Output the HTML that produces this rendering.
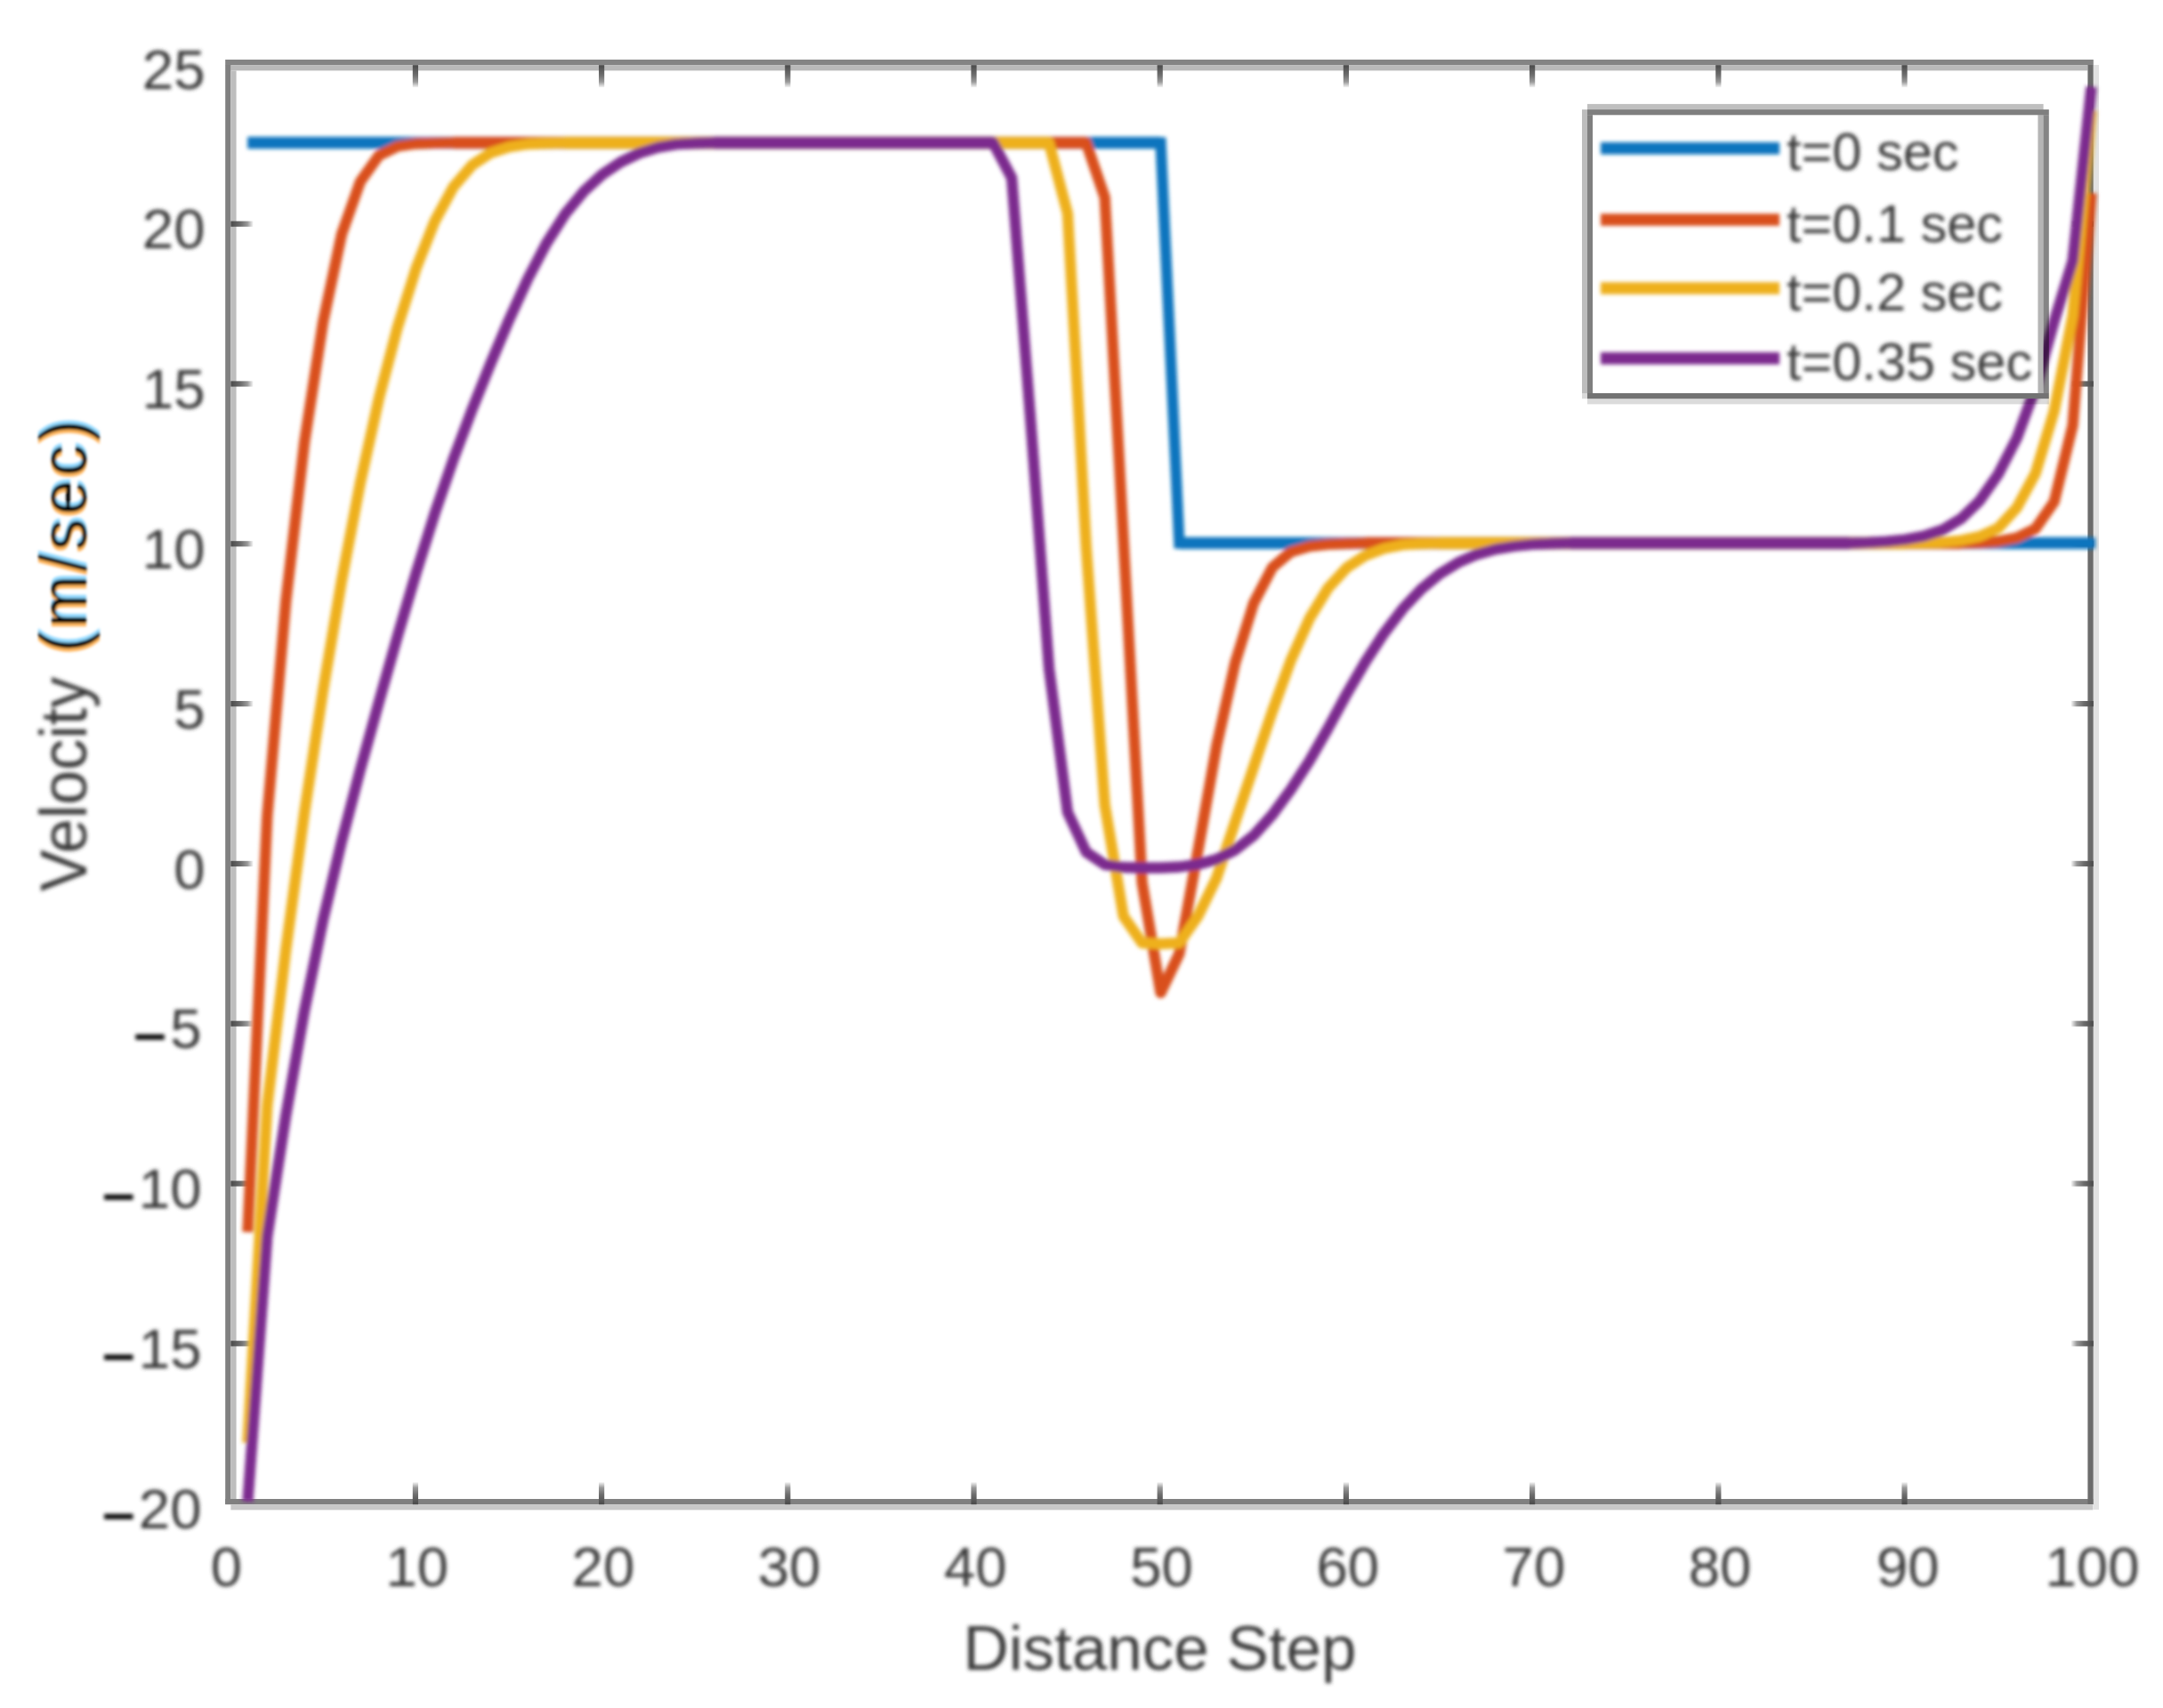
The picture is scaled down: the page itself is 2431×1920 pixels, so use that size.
<!DOCTYPE html>
<html lang="en"><head><meta charset="utf-8"><title>Velocity vs Distance Step</title>
<style>html,body{margin:0;padding:0;background:#fff}body{width:2431px;height:1920px;overflow:hidden}svg{display:block}</style></head>
<body>
<svg width="2431" height="1920" viewBox="0 0 2431 1920">
<defs>
<filter id="b" x="-5%" y="-5%" width="110%" height="110%"><feGaussianBlur stdDeviation="2.2"/></filter>
<filter id="bt" x="-5%" y="-20%" width="110%" height="140%"><feGaussianBlur stdDeviation="2.0"/></filter>
<filter id="fr" x="-30%" y="-5%" width="160%" height="110%"><feOffset in="SourceAlpha" dy="-4" result="up"/><feFlood flood-color="#8fd8ff"/><feComposite in2="up" operator="in" result="cup"/><feOffset in="SourceAlpha" dy="4" result="dn"/><feFlood flood-color="#ffb45a"/><feComposite in2="dn" operator="in" result="cdn"/><feMerge result="m"><feMergeNode in="cup"/><feMergeNode in="cdn"/><feMergeNode in="SourceGraphic"/></feMerge><feGaussianBlur in="m" stdDeviation="1.4"/></filter>
<linearGradient id="gd" x1="0" y1="0" x2="0" y2="1"><stop offset="0" stop-color="#4a4a4a"/><stop offset="0.45" stop-color="#6e6e6e"/><stop offset="0.75" stop-color="#999"/><stop offset="1" stop-color="#f4f4f4"/></linearGradient>
<linearGradient id="gu" x1="0" y1="1" x2="0" y2="0"><stop offset="0" stop-color="#4a4a4a"/><stop offset="0.45" stop-color="#6e6e6e"/><stop offset="0.75" stop-color="#999"/><stop offset="1" stop-color="#f4f4f4"/></linearGradient>
<linearGradient id="gr" x1="0" y1="0" x2="1" y2="0"><stop offset="0" stop-color="#4a4a4a"/><stop offset="0.45" stop-color="#6e6e6e"/><stop offset="0.75" stop-color="#999"/><stop offset="1" stop-color="#f4f4f4"/></linearGradient>
<linearGradient id="gl" x1="1" y1="0" x2="0" y2="0"><stop offset="0" stop-color="#4a4a4a"/><stop offset="0.45" stop-color="#6e6e6e"/><stop offset="0.75" stop-color="#999"/><stop offset="1" stop-color="#f4f4f4"/></linearGradient>
<clipPath id="cp"><rect x="253" y="67" width="2110" height="1624"/></clipPath>
</defs>
<rect width="2431" height="1920" fill="#fff"/>
<g>
<rect x="253.2" y="67" width="2099.6" height="6.2" fill="#848484"/>
<rect x="259.4" y="73.2" width="2087" height="6.2" fill="#b9b9b9"/>
<rect x="253.2" y="73" width="6.2" height="1618" fill="#808080"/>
<rect x="259.4" y="79.4" width="6.2" height="1606" fill="#bebebe"/>
<rect x="253.2" y="1685" width="2099.6" height="6.2" fill="#808080"/>
<rect x="259.4" y="1691.2" width="2093" height="6.2" fill="#c9c9c9"/>
<rect x="2346.4" y="73" width="6.4" height="1618" fill="#6c6c6c"/>
<rect x="2352.8" y="73" width="6.2" height="1624" fill="#e2e2e2"/>
</g>
<g><rect x="463.8" y="1666.2" width="6.2" height="25.0" fill="url(#gu)"/><rect x="463.8" y="73.2" width="6.2" height="25.0" fill="url(#gd)"/><rect x="673.0" y="1666.2" width="6.2" height="25.0" fill="url(#gu)"/><rect x="673.0" y="73.2" width="6.2" height="25.0" fill="url(#gd)"/><rect x="882.2" y="1666.2" width="6.2" height="25.0" fill="url(#gu)"/><rect x="882.2" y="73.2" width="6.2" height="25.0" fill="url(#gd)"/><rect x="1091.4" y="1666.2" width="6.2" height="25.0" fill="url(#gu)"/><rect x="1091.4" y="73.2" width="6.2" height="25.0" fill="url(#gd)"/><rect x="1300.6" y="1666.2" width="6.2" height="25.0" fill="url(#gu)"/><rect x="1300.6" y="73.2" width="6.2" height="25.0" fill="url(#gd)"/><rect x="1509.8" y="1666.2" width="6.2" height="25.0" fill="url(#gu)"/><rect x="1509.8" y="73.2" width="6.2" height="25.0" fill="url(#gd)"/><rect x="1719.0" y="1666.2" width="6.2" height="25.0" fill="url(#gu)"/><rect x="1719.0" y="73.2" width="6.2" height="25.0" fill="url(#gd)"/><rect x="1928.2" y="1666.2" width="6.2" height="25.0" fill="url(#gu)"/><rect x="1928.2" y="73.2" width="6.2" height="25.0" fill="url(#gd)"/><rect x="2137.4" y="1666.2" width="6.2" height="25.0" fill="url(#gu)"/><rect x="2137.4" y="73.2" width="6.2" height="25.0" fill="url(#gd)"/><rect x="259.4" y="1507.2" width="25.0" height="6.2" fill="url(#gr)"/><rect x="2327.8" y="1507.2" width="25.0" height="6.2" fill="url(#gl)"/><rect x="259.4" y="1327.4" width="25.0" height="6.2" fill="url(#gr)"/><rect x="2327.8" y="1327.4" width="25.0" height="6.2" fill="url(#gl)"/><rect x="259.4" y="1147.6" width="25.0" height="6.2" fill="url(#gr)"/><rect x="2327.8" y="1147.6" width="25.0" height="6.2" fill="url(#gl)"/><rect x="259.4" y="967.8" width="25.0" height="6.2" fill="url(#gr)"/><rect x="2327.8" y="967.8" width="25.0" height="6.2" fill="url(#gl)"/><rect x="259.4" y="788.0" width="25.0" height="6.2" fill="url(#gr)"/><rect x="2327.8" y="788.0" width="25.0" height="6.2" fill="url(#gl)"/><rect x="259.4" y="608.2" width="25.0" height="6.2" fill="url(#gr)"/><rect x="2327.8" y="608.2" width="25.0" height="6.2" fill="url(#gl)"/><rect x="259.4" y="428.4" width="25.0" height="6.2" fill="url(#gr)"/><rect x="2327.8" y="428.4" width="25.0" height="6.2" fill="url(#gl)"/><rect x="259.4" y="248.6" width="25.0" height="6.2" fill="url(#gr)"/><rect x="2327.8" y="248.6" width="25.0" height="6.2" fill="url(#gl)"/></g>
<g clip-path="url(#cp)"><g filter="url(#b)" fill="none" stroke-width="12.3" stroke-linejoin="round" stroke-linecap="butt">
<path d="M278.4 160.5 L1304.5 160.5 L1325.4 610.5 L2350.5 610.5 L2355.0 610.5" stroke="#0a74be" stroke-linejoin="miter"/>
<path d="M278.4 160.5 H1304.5 M1325.4 610.5 H2350.5" stroke="#0a74be" stroke-width="13.6"/>
<path d="M278.4 1385.0 L300.3 918.0 L321.3 676.0 L342.2 497.0 L363.1 362.0 L384.0 263.2 L404.9 204.2 L425.9 174.8 L446.8 164.5 L467.7 161.5 L488.6 160.8 L509.5 160.5 L1220.8 160.5 L1241.7 222.0 L1262.7 607.0 L1283.6 992.0 L1304.5 1116.0 L1325.4 1072.0 L1346.3 957.0 L1367.3 838.7 L1388.2 745.1 L1409.1 677.8 L1430.0 637.9 L1450.9 620.3 L1471.9 614.1 L1492.8 611.9 L1513.7 611.0 L1534.6 610.5 L2204.1 610.5 L2225.0 610.0 L2245.9 608.5 L2266.8 604.5 L2287.7 594.3 L2308.7 564.0 L2329.6 478.0 L2350.5 217.0" stroke="#d9501a"/>
<path d="M509.5 160.5 H1220.8 M1534.6 610.5 H2204.1" stroke="#d9501a" stroke-width="13.6"/>
<path d="M278.4 1622.0 L300.3 1243.0 L321.3 1067.4 L342.2 913.2 L363.1 776.1 L384.0 652.6 L404.9 542.8 L425.9 447.8 L446.8 367.8 L467.7 301.5 L488.6 248.7 L509.5 210.3 L530.5 185.7 L551.4 171.9 L572.3 165.1 L593.2 162.0 L614.1 161.0 L635.1 160.5 L1179.0 160.5 L1199.9 240.0 L1220.8 615.0 L1241.7 905.0 L1262.7 1030.0 L1283.6 1060.0 L1304.5 1061.0 L1325.4 1060.0 L1346.3 1030.0 L1367.3 987.0 L1388.2 923.9 L1409.1 861.7 L1430.0 799.6 L1450.9 742.0 L1471.9 695.0 L1492.8 660.8 L1513.7 638.1 L1534.6 624.4 L1555.5 616.5 L1576.5 612.4 L1597.4 611.0 L1618.3 610.5 L2141.3 610.5 L2162.2 610.3 L2183.1 609.5 L2204.1 607.5 L2225.0 603.0 L2245.9 593.5 L2266.8 570.7 L2287.7 532.0 L2308.7 462.0 L2329.6 355.0 L2350.5 124.0" stroke="#eeb01f"/>
<path d="M635.1 160.5 H1179.0 M1618.3 610.5 H2141.3" stroke="#eeb01f" stroke-width="13.6"/>
<path d="M278.4 1688.0 L300.3 1390.0 L321.3 1254.0 L342.2 1135.9 L363.1 1034.2 L384.0 945.7 L404.9 865.3 L425.9 789.1 L446.8 715.1 L467.7 644.0 L488.6 577.3 L509.5 516.4 L530.5 460.7 L551.4 408.6 L572.3 359.2 L593.2 313.5 L614.1 273.6 L635.1 240.7 L656.0 215.3 L676.9 196.1 L697.8 182.1 L718.7 172.1 L739.7 165.6 L760.6 162.1 L781.5 161.0 L802.4 160.5 L1116.2 160.5 L1137.1 200.0 L1158.1 470.0 L1179.0 751.0 L1199.9 913.0 L1220.8 957.8 L1241.7 972.0 L1262.7 975.0 L1283.6 975.5 L1304.5 975.5 L1325.4 974.5 L1346.3 971.7 L1367.3 966.0 L1388.2 955.5 L1409.1 939.2 L1430.0 915.9 L1450.9 887.3 L1471.9 855.0 L1492.8 818.4 L1513.7 779.8 L1534.6 743.9 L1555.5 711.9 L1576.5 684.4 L1597.4 662.2 L1618.3 645.0 L1639.2 632.2 L1660.1 623.2 L1681.1 617.4 L1702.0 614.0 L1722.9 611.9 L1743.8 611.0 L1764.7 610.5 L2078.5 610.5 L2099.5 609.8 L2120.4 608.6 L2141.3 606.5 L2162.2 602.6 L2183.1 595.7 L2204.1 583.1 L2225.0 562.8 L2245.9 532.9 L2266.8 492.3 L2287.7 435.8 L2308.7 361.0 L2329.6 293.0 L2350.5 97.5" stroke="#7b2a8e"/>
<path d="M802.4 160.5 H1116.2 M1764.7 610.5 H2078.5" stroke="#7b2a8e" stroke-width="13.6"/>
</g></g>
<rect x="1784" y="123.1" width="512.6" height="325" fill="#fff"/>
<g fill="#000">
<rect x="1784" y="116.9" width="512.6" height="6.2" fill-opacity="0.25"/>
<rect x="1784" y="123.1" width="518.8" height="6.2" fill-opacity="0.5"/>
<rect x="1778" y="123.1" width="6" height="318.9" fill-opacity="0.26"/>
<rect x="1784" y="129.3" width="6" height="312.7" fill-opacity="0.5"/>
<rect x="2290.4" y="129.3" width="6.2" height="312.7" fill-opacity="0.29"/>
<rect x="2296.6" y="129.3" width="6.2" height="312.7" fill-opacity="0.48"/>
<rect x="1784" y="442" width="518.8" height="6.2" fill-opacity="0.55"/>
<rect x="1778" y="442" width="6" height="6.2" fill-opacity="0.15"/>
<rect x="1784" y="448.2" width="518.8" height="6.2" fill-opacity="0.14"/>
</g>
<g filter="url(#b)">
<rect x="1799" y="159.9" width="201" height="13.6" fill="#0a74be"/>
<rect x="1799" y="240.2" width="201" height="13.6" fill="#d9501a"/>
<rect x="1799" y="317.2" width="201" height="13.6" fill="#eeb01f"/>
<rect x="1799" y="396.0" width="201" height="13.6" fill="#7b2a8e"/>
</g>
<g filter="url(#bt)" font-family="'Liberation Sans', Arial, Helvetica, sans-serif" fill="#3a3a3a">
<g font-size="59.5">
<text x="2008" y="191.2">t=0 sec</text>
<text x="2008" y="271.5">t=0.1 sec</text>
<text x="2008" y="348.5">t=0.2 sec</text>
<text x="2008" y="427.3">t=0.35 sec</text>
</g>
<g font-size="63.5" text-anchor="middle">
<text x="254.5" y="1782.5">0</text>
<text x="468.7" y="1782.5">10</text>
<text x="677.9" y="1782.5">20</text>
<text x="887.1" y="1782.5">30</text>
<text x="1096.3" y="1782.5">40</text>
<text x="1305.5" y="1782.5">50</text>
<text x="1514.7" y="1782.5">60</text>
<text x="1723.9" y="1782.5">70</text>
<text x="1933.1" y="1782.5">80</text>
<text x="2144.3" y="1782.5">90</text>
<text x="2351.5" y="1782.5">100</text>
</g>
<g font-size="63.5" text-anchor="end">
<text x="230.5" y="1717.8"><tspan fill="#000" stroke="#000" stroke-width="1.6" dx="-4" dy="8.5">−</tspan><tspan dx="4" dy="-8.5">20</tspan></text>
<text x="230.5" y="1538.0"><tspan fill="#000" stroke="#000" stroke-width="1.6" dx="-4" dy="8.5">−</tspan><tspan dx="4" dy="-8.5">15</tspan></text>
<text x="230.5" y="1358.2"><tspan fill="#000" stroke="#000" stroke-width="1.6" dx="-4" dy="8.5">−</tspan><tspan dx="4" dy="-8.5">10</tspan></text>
<text x="230.5" y="1178.4"><tspan fill="#000" stroke="#000" stroke-width="1.6" dx="-4" dy="8.5">−</tspan><tspan dx="4" dy="-8.5">5</tspan></text>
<text x="230.5" y="998.6">0</text>
<text x="230.5" y="818.8">5</text>
<text x="230.5" y="639.0">10</text>
<text x="230.5" y="459.2">15</text>
<text x="230.5" y="279.4">20</text>
<text x="230.5" y="99.6">25</text>
</g>
<text x="1303.5" y="1876.5" font-size="71" text-anchor="middle">Distance Step</text>
</g>
<g font-family="'Liberation Sans', Arial, Helvetica, sans-serif" font-size="70">
<g filter="url(#bt)"><text transform="translate(97 1002) rotate(-90) scale(1 1.05)" fill="#3a3a3a">Velocity</text></g>
<g filter="url(#fr)"><text transform="translate(97 733) rotate(-90) scale(1 1.05)" fill="#000" letter-spacing="4.6">(m/sec)</text></g>
</g>
</svg>
</body></html>
